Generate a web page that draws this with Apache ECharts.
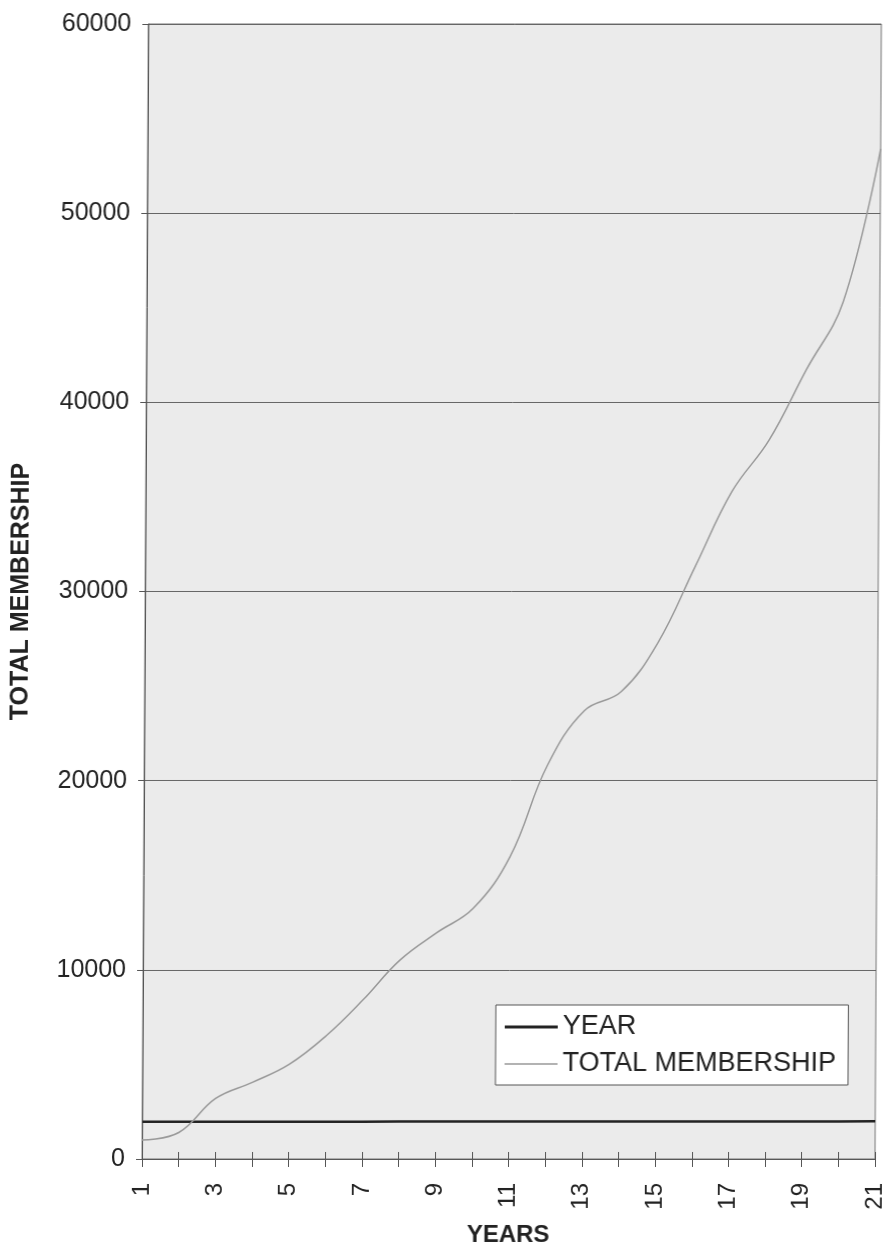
<!DOCTYPE html>
<html>
<head>
<meta charset="utf-8">
<script src="https://cdn.jsdelivr.net/npm/echarts@6/dist/echarts.min.js"></script>
<style>
    html, body { margin: 0; padding: 0; background: #fff; }
    /* the scanned page leans: the top of the plot sits a few px right of the bottom */
    #chart { width: 890px; height: 1252px; transform: skewX(-0.32deg); transform-origin: 50% 50%; }
</style>
</head>
<body>
<div id="chart"></div>
<script>
    const years = ['1', '2', '3', '4', '5', '6', '7', '8', '9', '10', '11',
        '12', '13', '14', '15', '16', '17', '18', '19', '20', '21']
    const yearValues = [1969, 1970, 1971, 1972, 1973, 1974, 1975, 1976, 1977, 1978, 1979,
        1980, 1981, 1982, 1983, 1984, 1985, 1986, 1987, 1988, 1989]
    const membership = [1000, 1400, 3200, 4050, 5000, 6500, 8400, 10500, 11950, 13250, 16000,
        20800, 23700, 24700, 27300, 31300, 35300, 38000, 41700, 45300, 53400]
    const yTicks = { min: 0, max: 60000, interval: 10000 }

    const font = 'Liberation Sans, Arial, sans-serif'
    const chart = echarts.init(document.getElementById('chart'))

    // legend swatches: plain line segments, no dot
    const thickLine = 'path://M0,0L0,0M0,5.6L53,5.6L53,8.4L0,8.4ZM53,14L53,14'
    const thinLine = 'path://M0,0L0,0M0,6.3L53,6.3L53,7.7L0,7.7ZM53,14L53,14'

    const option = {
        animation: false,
        grid: {
            left: 145,
            right: 6,
            top: 24,
            bottom: 90,
            show: true,
            backgroundColor: '#ebebeb',
            borderColor: '#777',
            borderWidth: 1
        },
        legend: {
            orient: 'vertical',
            left: 498,
            top: 1005,
            padding: [8, 12, 7, 9],
            itemGap: 9,
            itemWidth: 53,
            itemHeight: 14,
            backgroundColor: '#fff',
            borderColor: '#555',
            borderWidth: 1,
            borderRadius: 0,
            textStyle: { fontFamily: font, fontSize: 27, lineHeight: 28, color: '#222' },
            data: [
                { name: 'YEAR', icon: thickLine },
                { name: 'TOTAL MEMBERSHIP', icon: thinLine }
            ]
        },
        xAxis: [
            {
                type: 'category',
                data: years,
                boundaryGap: false,
                name: 'YEARS',
                nameLocation: 'middle',
                nameGap: 64,
                nameTextStyle: { fontFamily: font, fontSize: 24, fontWeight: 'bold', color: '#222' },
                axisLine: { lineStyle: { color: '#555', width: 1 } },
                axisTick: { alignWithLabel: true, interval: 0, length: 8, lineStyle: { color: '#555' } },
                axisLabel: { interval: 1, rotate: 90, margin: 24, fontFamily: font, fontSize: 24, color: '#222' }
            },
            {
                // inner half of the ticks, so they cross the axis line
                type: 'category',
                data: years,
                boundaryGap: false,
                position: 'bottom',
                axisLine: { show: false },
                axisTick: { inside: true, interval: 0, length: 7, lineStyle: { color: '#555' } },
                axisLabel: { show: false }
            }
        ],
        yAxis: {
            type: 'value',
            min: yTicks.min,
            max: yTicks.max,
            interval: yTicks.interval,
            name: 'TOTAL MEMBERSHIP',
            nameLocation: 'middle',
            nameGap: 111,
            nameTextStyle: { fontFamily: font, fontSize: 25, fontWeight: 'bold', color: '#222' },
            axisLine: { show: true, lineStyle: { color: '#555', width: 1 } },
            axisTick: { show: true, length: 6, lineStyle: { color: '#555' } },
            axisLabel: {
                margin: 17,
                fontFamily: font,
                fontSize: 25,
                color: '#222',
                formatter: v => String(v)
            },
            splitLine: { lineStyle: { color: '#666', width: 1 } }
        },
        series: [
            {
                name: 'YEAR',
                type: 'line',
                data: yearValues,
                symbol: 'none',
                color: '#222',
                lineStyle: { color: '#222', width: 2.5 }
            },
            {
                name: 'TOTAL MEMBERSHIP',
                type: 'line',
                data: membership,
                symbol: 'none',
                smooth: 0.4,
                color: '#999',
                lineStyle: { color: '#999', width: 1.5 }
            }
        ]
    }

    chart.setOption(option)
</script>
</body>
</html>
